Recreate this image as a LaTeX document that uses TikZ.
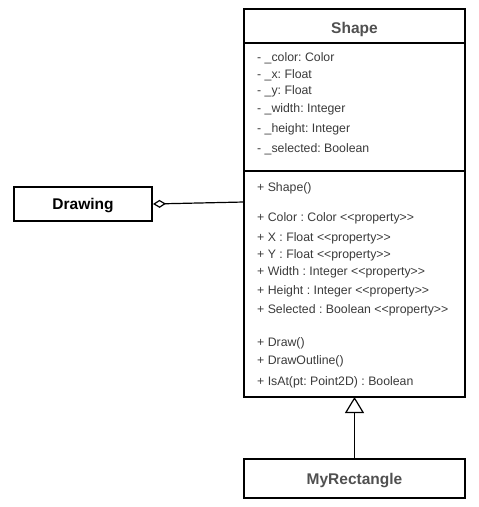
\documentclass[tikz,border=0pt]{standalone}
\usepackage{fontspec}
\setmainfont{Liberation Sans}
\usetikzlibrary{arrows.meta}
\frenchspacing
\definecolor{titlegrey}{HTML}{505050}
\definecolor{txtgrey}{HTML}{3A3A3A}
\tikzset{
  member/.style={anchor=west, inner sep=0pt, font=\fontsize{12.3}{14}\selectfont, text=txtgrey},
  ctitle/.style={font=\fontsize{15.5}{18}\selectfont\bfseries, text=titlegrey, text height=11.1pt, text depth=0pt},
}
\begin{document}
\begin{tikzpicture}[x=1pt,y=-1pt]
\useasboundingbox (0,0) rectangle (479,507);
% Shape class
\draw[line width=2pt] (244,9) rectangle (465,397);
\draw[line width=2pt] (244,43) -- (465,43);
\draw[line width=2pt] (244,171) -- (465,171);
\node[ctitle, inner sep=0pt] (shapetitle) at (354.5,27.5) {Shape};
\coordinate (shapeleft) at (244,202);
\coordinate (shapebottom) at (354.5,397);
\node[member] (a1) at (257,58) {- \_color: Color};
\node[member] (a2) at (257,75) {- \_x: Float};
\node[member] (a3) at (257,91.5) {- \_y: Float};
\node[member] (a4) at (257,109) {- \_width: Integer};
\node[member] (a5) at (257,129) {- \_height: Integer};
\node[member] (a6) at (257,149) {- \_selected: Boolean};
\node[member] (m1) at (257,188) {+ Shape()};
\node[member] (m2) at (257,218) {+ Color : Color <{}<property>{}>};
\node[member] (m3) at (257,238.5) {+ X : Float <{}<property>{}>};
\node[member] (m4) at (257,255) {+ Y : Float <{}<property>{}>};
\node[member] (m5) at (257,272) {+ Width : Integer <{}<property>{}>};
\node[member] (m6) at (257,291) {+ Height : Integer <{}<property>{}>};
\node[member] (m7) at (257,310) {+ Selected : Boolean <{}<property>{}>};
\node[member] (m8) at (257,343) {+ Draw()};
\node[member] (m9) at (257,361.5) {+ DrawOutline()};
\node[member] (m10) at (257,382) {+ IsAt(pt: Point2D) : Boolean};
% Drawing
\node[draw=black, line width=2pt, minimum width=138pt, minimum height=34pt, inner sep=0pt,
      ctitle, text=black] (drawing) at (83,204) {Drawing};
% MyRectangle
\node[draw=black, line width=2pt, minimum width=221pt, minimum height=39pt, inner sep=0pt,
      ctitle] (myrect) at (354.5,478.5) {MyRectangle};
% connectors
\draw[line width=1.2pt, {Diamond[open, length=13pt, width=8pt, line width=1.2pt]}-] (drawing.east) -- (shapeleft);
\draw[line width=1.2pt, -{Triangle[open, length=16pt, width=19pt, line width=1.2pt]}] (myrect.north) -- (shapebottom);
\end{tikzpicture}
\end{document}
